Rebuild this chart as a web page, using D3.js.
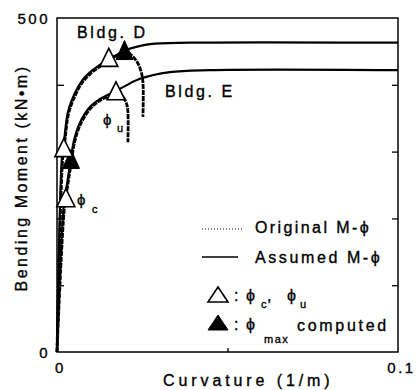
<!DOCTYPE html>
<html>
<head>
<meta charset="utf-8">
<script src="https://cdn.jsdelivr.net/npm/d3@7"></script>
<style>
  html, body { margin: 0; padding: 0; background: #fff; }
  svg { display: block; }
  text { font-family: "Liberation Sans", Arial, Helvetica, sans-serif; fill: #000; stroke: #000; stroke-width: 0.35px; }
</style>
</head>
<body>
<script>
// ---- data (curvature 1/m, moment kN·m) ----
const dAssumedPhi = [0, 0.0015, 0.0021, 0.0032, 0.0053, 0.0073, 0.0097, 0.0126, 0.0152, 0.0176, 0.0196, 0.022, 0.0273, 0.039, 0.1];
const dAssumedM   = [0, 295, 317, 359, 388, 406, 419, 430, 439, 445, 451, 455, 461, 463, 463];
const dOriginalPhi = [0, 0.0017, 0.0023, 0.0034, 0.0055, 0.0075, 0.0099, 0.0127, 0.0153, 0.0177, 0.0197, 0.0217, 0.0235, 0.0246, 0.0252, 0.0252];
const dOriginalM   = [0, 293, 315, 357, 386, 404, 417, 428, 438, 444, 450, 445, 434, 421, 404, 352];
const eAssumedPhi = [0, 0.002, 0.0029, 0.0038, 0.005, 0.0067, 0.0097, 0.0126, 0.015, 0.0173, 0.0199, 0.0243, 0.0331, 0.0449, 0.1];
const eAssumedM   = [0, 220, 250, 280, 317, 343, 367, 379, 385, 391, 398, 409, 419, 422, 422];
const eOriginalPhi = [0, 0.0022, 0.0031, 0.004, 0.0052, 0.0069, 0.0099, 0.0128, 0.0152, 0.0175, 0.0196, 0.0205, 0.0208, 0.0208];
const eOriginalM   = [0, 218, 248, 278, 315, 341, 365, 377, 383, 389, 380, 370, 359, 314];
// markers
const openPhi = [0.002, 0.0026, 0.0152, 0.0173];     // phi_c (D, E), phi_u (D, E)
const openM   = [306, 231, 441, 391];
const filledPhi = [0.0198, 0.0041];                 // phi_max computed (D, E)
const filledM   = [452, 289];
const xTickLabels = [0, 0.1];
const yTickLabels = [0, 500];
const yMinorTicks = [100, 200, 300, 400];
const xMinorTicks = [0.05];

const W = 419, H = 390;
const svg = d3.select("body").append("svg").attr("width", W).attr("height", H);
const L = 57, R = 398, T = 18, B = 352;
const x = d3.scaleLinear().domain([0, 0.1]).range([L, R]);
const y = d3.scaleLinear().domain([0, 500]).range([B, T]);

const zip = (a, b) => a.map((v, i) => [v, b[i]]);
const line = d3.line().x(d => x(d[0])).y(d => y(d[1])).curve(d3.curveCatmullRom.alpha(0.5));

// frame
svg.append("rect").attr("x", L).attr("y", T).attr("width", R - L).attr("height", B - T)
  .attr("fill", "none").attr("stroke", "#000").attr("stroke-width", 1.5);

// axes: labels
const fmtX = d => d === 0 ? "0" : "0.1";
const gx = svg.append("g").attr("transform", `translate(0,${B})`)
  .call(d3.axisBottom(x).tickValues(xTickLabels).tickSize(0).tickPadding(10).tickFormat(fmtX));
const gy = svg.append("g").attr("transform", `translate(${L},0)`)
  .call(d3.axisLeft(y).tickValues(yTickLabels).tickSize(0).tickPadding(7).tickFormat(d3.format("d")));
[gx, gy].forEach(g => {
  g.select(".domain").remove();
  g.selectAll("text").style("font-size", "15px").style("letter-spacing", "2.5px")
    .attr("font-family", null).attr("fill", null);
});
gx.selectAll("text").attr("dx", 3);
gy.selectAll("text").attr("dy", "0.36em");

// inner ticks
const tickStyle = g => { g.select(".domain").remove(); g.selectAll("text").remove(); g.selectAll("line").attr("stroke-width", 1.3); };
svg.append("g").attr("transform", `translate(${L},0)`)
  .call(d3.axisLeft(y).tickValues(yMinorTicks).tickSizeInner(-7).tickSizeOuter(0)).call(tickStyle);
svg.append("g").attr("transform", `translate(${R},0)`)
  .call(d3.axisRight(y).tickValues(yMinorTicks).tickSizeInner(-6).tickSizeOuter(0)).call(tickStyle);
svg.append("g").attr("transform", `translate(0,${B})`)
  .call(d3.axisBottom(x).tickValues(xMinorTicks).tickSizeInner(-4).tickSizeOuter(0)).call(tickStyle);

// curves
const curves = svg.append("g");
curves.append("path").datum(zip(dOriginalPhi, dOriginalM)).attr("d", line)
  .attr("fill", "none").attr("stroke", "#000").attr("stroke-width", 2.8).attr("stroke-dasharray", "5,1");
curves.append("path").datum(zip(eOriginalPhi, eOriginalM)).attr("d", line)
  .attr("fill", "none").attr("stroke", "#000").attr("stroke-width", 2.8).attr("stroke-dasharray", "5,1");
curves.append("path").datum(zip(dAssumedPhi, dAssumedM)).attr("d", line)
  .attr("fill", "none").attr("stroke", "#000").attr("stroke-width", 2.2);
curves.append("path").datum(zip(eAssumedPhi, eAssumedM)).attr("d", line)
  .attr("fill", "none").attr("stroke", "#000").attr("stroke-width", 2.2);

// markers
const tri = (cx, cy, w, h) => `M${cx},${cy - h / 2}L${cx + w / 2},${cy + h / 2}L${cx - w / 2},${cy + h / 2}Z`;
svg.append("g").selectAll("path").data(zip(filledPhi, filledM)).join("path")
  .attr("d", d => tri(x(d[0]), y(d[1]), 17, 19)).attr("fill", "#000").attr("stroke", "#000").attr("stroke-width", 1);
svg.append("g").selectAll("path").data(zip(openPhi, openM)).join("path")
  .attr("d", d => tri(x(d[0]), y(d[1]), 18, 18)).attr("fill", "#fff").attr("stroke", "#000").attr("stroke-width", 1.6);

// annotations
const txt = (xx, yy, s, size, ls, anchor) => svg.append("text").attr("x", xx).attr("y", yy)
  .attr("text-anchor", anchor || "start").style("font-size", size + "px").style("letter-spacing", (ls || 0) + "px").text(s);
txt(77, 38, "Bldg. D", 16, 2.6);
txt(165, 97, "Bldg. E", 16, 2.6);
txt(103, 125, "\u03D5", 15, 0);
txt(117, 132, "u", 11, 0);
txt(77, 205, "\u03D5", 15, 0);
txt(92, 213, "c", 11, 0);

// axis titles
svg.append("text").attr("transform", "translate(27,178) rotate(-90)").attr("text-anchor", "middle")
  .style("font-size", "16px").style("letter-spacing", "2.5px").text("Bending Moment (kN\u2022m)");
txt(163, 386, "Curvature (1/m)", 16, 3.9);

// legend
svg.append("line").attr("x1", 202).attr("x2", 243).attr("y1", 229).attr("y2", 229)
  .attr("stroke", "#000").attr("stroke-width", 1).attr("stroke-dasharray", "1,2");
txt(255, 233, "Original M-\u03D5", 16, 2.4);
svg.append("line").attr("x1", 202).attr("x2", 238).attr("y1", 257).attr("y2", 257)
  .attr("stroke", "#000").attr("stroke-width", 1.5);
txt(255, 263, "Assumed M-\u03D5", 16, 2.6);
svg.append("path").attr("d", tri(218, 294.5, 20, 15)).attr("fill", "#fff").attr("stroke", "#000").attr("stroke-width", 1.6);
txt(234, 301, ":", 16, 0);
txt(246, 301, "\u03D5", 16, 0);
txt(261, 308, "c", 11, 0);
txt(267, 301, ",", 16, 0);
txt(287, 301, "\u03D5", 16, 0);
txt(300, 308, "u", 11, 0);
svg.append("path").attr("d", tri(218, 322.5, 20, 15)).attr("fill", "#000").attr("stroke", "#000").attr("stroke-width", 1);
txt(234, 330, ":", 16, 0);
txt(246, 330, "\u03D5", 16, 0);
txt(264, 343, "max", 11, 1.5);
txt(297, 331, "computed", 16, 2.7);
</script>
</body>
</html>
